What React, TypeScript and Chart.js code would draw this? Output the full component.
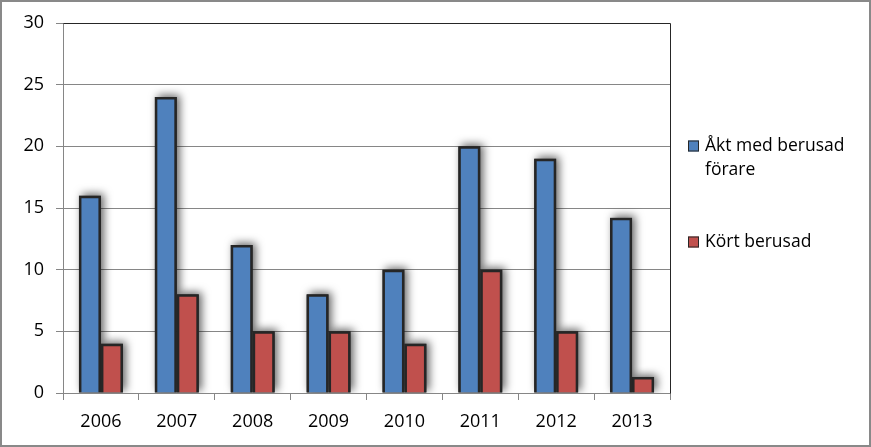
import React, { useEffect, useRef } from "react";
import { Chart, registerables } from "chart.js";

Chart.register(...registerables);

const categories = ["2006", "2007", "2008", "2009", "2010", "2011", "2012", "2013"];
const seriesRode = [16, 24, 12, 8, 10, 20, 19, 14.2];
const seriesDrove = [4, 8, 5, 5, 4, 10, 5, 1.3];
const legendLines = [["Åkt med berusad", "förare"], ["Kört berusad"]];
const yTicks = [0, 5, 10, 15, 20, 25, 30];

const BLUE = "#4F81BD";
const RED = "#C0504D";
const EDGE = "#262626";
const GRID = "#868686";
const FONT = "'Open Sans', 'Noto Sans', sans-serif";

export default function App() {
  const ref = useRef<HTMLCanvasElement | null>(null);
  useEffect(() => {
    if (!ref.current) return;
    const shadowPlugin = {
      id: "shadow",
      beforeDatasetsDraw(chart: any) {
        const ctx = chart.ctx;
        const a = chart.chartArea;
        ctx.save();
        ctx.beginPath();
        ctx.rect(a.left, a.top - 12, a.right - a.left + 12, a.bottom - a.top + 12);
        ctx.clip();
        ctx.shadowColor = "rgba(0,0,0,0.6)";
        ctx.shadowBlur = 9;
        ctx.shadowOffsetX = 3;
        ctx.shadowOffsetY = -2;
        ctx.fillStyle = EDGE;
        chart.data.datasets.forEach((_: any, di: number) => {
          const meta = chart.getDatasetMeta(di);
          meta.data.forEach((el: any) => {
            const p = el.getProps(["x", "y", "base", "width"], true);
            const left = p.x - p.width / 2;
            const top = Math.min(p.y, p.base);
            const h = Math.abs(p.base - p.y);
            ctx.fillRect(left, top, p.width, h);
          });
        });
        ctx.restore();
      },
    };
    const framePlugin = {
      id: "frame",
      afterDraw(chart: any) {
        const ctx = chart.ctx;
        const a = chart.chartArea;
        ctx.save();
        ctx.strokeStyle = EDGE;
        ctx.lineWidth = 1;
        ctx.beginPath();
        ctx.moveTo(Math.round(a.left) + 0.5, Math.round(a.top) + 0.5);
        ctx.lineTo(Math.round(a.right) + 0.5, Math.round(a.top) + 0.5);
        ctx.lineTo(Math.round(a.right) + 0.5, Math.round(a.bottom) + 0.5);
        ctx.stroke();
        const items = chart.data.datasets;
        const sqX = 688;
        const textX = 705;
        const rows = [146, 242];
        ctx.font = "17.5px " + FONT;
        ctx.textBaseline = "middle";
        ctx.textAlign = "left";
        items.forEach((ds: any, i: number) => {
          const cy = rows[i];
          ctx.fillStyle = ds.backgroundColor;
          ctx.fillRect(sqX, cy - 5.5, 11, 11);
          ctx.strokeStyle = EDGE;
          ctx.lineWidth = 1;
          ctx.strokeRect(sqX + 0.5, cy - 5.5 + 0.5, 10, 10);
          ctx.fillStyle = "#000";
          legendLines[i].forEach((line, j) => {
            ctx.fillText(line, textX, cy + j * 24);
          });
        });
        ctx.strokeStyle = "#898989";
        ctx.lineWidth = 2;
        ctx.strokeRect(1, 1, chart.width - 2, chart.height - 2);
        ctx.restore();
      },
    };
    const chart = new Chart(ref.current, {
      type: "bar",
      data: {
        labels: categories,
        datasets: [
          {
            label: legendLines[0].join(" "),
            data: seriesRode,
            backgroundColor: BLUE,
            borderColor: EDGE,
            borderWidth: 2.5,
            categoryPercentage: 0.58,
            barPercentage: 1,
          },
          {
            label: legendLines[1].join(" "),
            data: seriesDrove,
            backgroundColor: RED,
            borderColor: EDGE,
            borderWidth: 2.5,
            categoryPercentage: 0.58,
            barPercentage: 1,
          },
        ],
      },
      options: {
        animation: false,
        responsive: true,
        maintainAspectRatio: false,
        layout: { padding: { top: 23, right: 201, left: 0, bottom: 0 } },
        plugins: { legend: { display: false }, tooltip: { enabled: false } },
        scales: {
          x: {
            afterFit(scale: any) {
              scale.height = 54;
            },
            grid: {
              drawOnChartArea: false,
              drawTicks: true,
              tickLength: 7,
              color: GRID,
              offset: true,
            },
            border: { color: GRID, width: 1 },
            ticks: { color: "#000", font: { family: FONT, size: 18 }, padding: 11 },
          },
          y: {
            min: 0,
            max: 30,
            afterFit(scale: any) {
              scale.width = 63;
            },
            afterBuildTicks(scale: any) {
              scale.ticks = yTicks.map((v) => ({ value: v }));
            },
            grid: { color: GRID, tickLength: 7, drawTicks: true },
            border: { color: GRID, width: 1 },
            ticks: { color: "#000", font: { family: FONT, size: 18 }, padding: 12 },
          },
        },
      },
      plugins: [shadowPlugin, framePlugin],
    });
    return () => chart.destroy();
  }, []);
  return (
    <div style={{ position: "absolute", left: 0, top: 0, width: 871, height: 447, background: "#fff" }}>
      <canvas ref={ref} />
    </div>
  );
}
